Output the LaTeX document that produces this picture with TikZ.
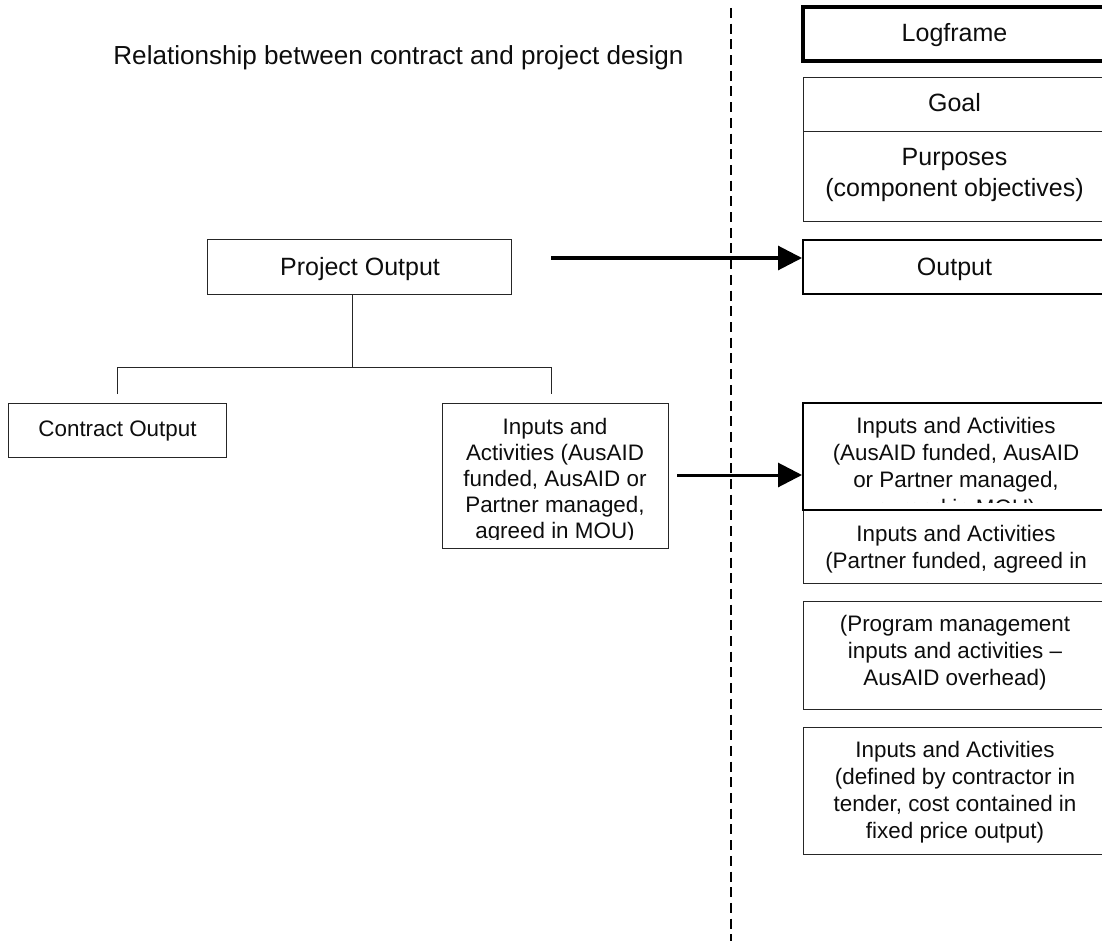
\documentclass[tikz,border=0pt]{standalone}
\usepackage{fontspec}
\setmainfont{Liberation Sans}
\usetikzlibrary{arrows.meta}

\tikzset{
    thinbox/.style={draw=black!85, line width=1pt, inner sep=0pt},
    boldbox/.style={thinbox, draw=black, line width=2pt},
    heavybox/.style={thinbox, draw=black, line width=3.5pt},
    linkline/.style={line width=1pt, black!85},
    mainarrow/.style={line width=3pt, -{Triangle[length=24pt, width=24pt]}},
    boxtext/.style={inner sep=0pt, align=center, anchor=base, text=black!95, font=\fontsize{22.4}{26.7}\selectfont},
    bigtext/.style={boxtext, font=\fontsize{25}{31.7}\selectfont}
}

\begin{document}
\begin{tikzpicture}[x=1pt, y=-1pt]

    \useasboundingbox (0,0) rectangle (1102,941);

    % Divider
    \draw[line width=2.4pt, dash pattern=on 10pt off 5.7pt] (731,8) coordinate (divtop) -- (731,941) coordinate (divend);

    % Title
    \node[boxtext, font=\fontsize{26.1}{30}\selectfont] (title) at (398.5,65) {Relationship between contract and project design};

    % Logframe column
    \node[heavybox, minimum width=302pt, minimum height=54pt] (logframe) at (954,34) {};
    \node[bigtext] (logframetext) at (954.5,42) {Logframe};
    \node[thinbox, minimum width=302pt, minimum height=54pt] (goal) at (954,105) {};
    \node[bigtext] (goaltext) at (954.5,112) {Goal};
    \node[thinbox, minimum width=302pt, minimum height=90pt] (purposes) at (954,177) {};
    \node[bigtext] (purposestext) at (954.5,197) {Purposes\\(component objectives)};
    \node[boldbox, minimum width=302pt, minimum height=54pt] (output) at (954,267) {};
    \node[bigtext] (outputtext) at (954.5,275) {Output};

    % Partner funded, last line does not fit
    \node[thinbox, minimum width=302pt, minimum height=73pt] (partner) at (954,546.5) {};
    \node[boxtext] (partnertext) at (956,568) {Inputs and Activities\\(Partner funded, agreed in};

    % AusAID funded, cut off by the box
    \node[boldbox, minimum width=302pt, minimum height=107pt] (funded) at (954,456.5) {};
    \begin{scope}
        \clip (803,403) rectangle (1105,502);
        \node[boxtext, font=\fontsize{22.4}{27.3}\selectfont] (fundedtext) at (956,515) {Inputs and Activities\\(AusAID funded, AusAID\\or Partner managed,\\agreed in MOU)};
    \end{scope}

    \node[thinbox, minimum width=302pt, minimum height=108pt] (program) at (954,655) {};
    \node[boxtext] (programtext) at (955,685) {(Program management\\inputs and activities --\\AusAID overhead)};
    \node[thinbox, minimum width=302pt, minimum height=127pt] (tender) at (954,790.5) {};
    \node[boxtext] (tendertext) at (955,838) {Inputs and Activities\\(defined by contractor in\\tender, cost contained in\\fixed price output)};

    % Project side
    \node[thinbox, minimum width=304pt, minimum height=54pt] (project) at (359,267) {};
    \node[bigtext] (projecttext) at (360,275) {Project Output};
    \node[thinbox, minimum width=218pt, minimum height=54pt] (contract) at (117,430) {};
    \node[boxtext] (contracttext) at (117.5,436) {Contract Output};
    \node[thinbox, minimum width=226pt, minimum height=145pt] (inputs) at (555,475.5) {};
    \begin{scope}
        \clip (442,403) rectangle (668,539);
        \node[boxtext, font=\fontsize{22.4}{26}\selectfont] (inputstext) at (555,538) {Inputs and\\Activities (AusAID\\funded, AusAID or\\Partner managed,\\agreed in MOU)};
    \end{scope}

    % Tree
    \coordinate (fork) at (352,367);
    \coordinate (contractdrop) at (117,394);
    \coordinate (inputsdrop) at (551,394);
    \draw[linkline] (project.south -| fork) -- (fork);
    \draw[linkline] (contractdrop) -- (contractdrop |- fork) -- (inputsdrop |- fork) -- (inputsdrop);

    % Arrows
    \coordinate (projectstart) at (551,258);
    \coordinate (inputsstart) at (677,475);
    \draw[mainarrow] (projectstart) -- (projectstart -| output.west);
    \draw[mainarrow] (inputsstart) -- (inputsstart -| funded.west);

\end{tikzpicture}
\end{document}
